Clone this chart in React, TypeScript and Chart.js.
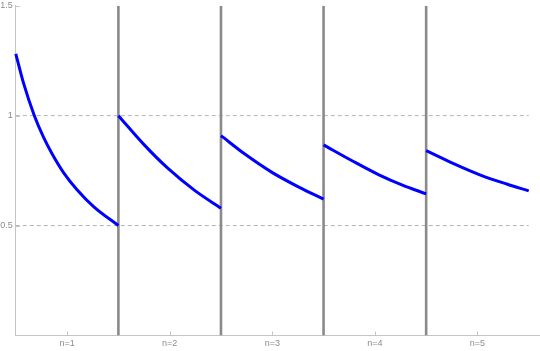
import React, { useEffect, useRef } from "react";
import { Chart, registerables } from "chart.js";

Chart.register(...registerables);

// Segment labels shown under the x axis (centred in each unit interval)
const segmentLabels = ["n=1", "n=2", "n=3", "n=4", "n=5"];
const segmentLabelPositions = [0.5, 1.5, 2.5, 3.5, 4.5];

// Curve samples (x, y)
const seg1X = [0, 0.074, 0.18, 0.271, 0.352, 0.467, 0.597, 0.761, 1];
const seg1Y = [1.281, 1.15, 1.001, 0.901, 0.828, 0.74, 0.663, 0.585, 0.5];
const seg2X = [1, 1.252, 1.481, 1.743, 2];
const seg2Y = [1.0, 0.867, 0.761, 0.66, 0.579];
const seg3X = [2, 2.236, 2.497, 2.759, 3];
const seg3Y = [0.909, 0.824, 0.742, 0.675, 0.62];
const seg4X = [3, 3.278, 3.54, 3.769, 4];
const seg4Y = [0.867, 0.795, 0.731, 0.684, 0.644];
const seg5X = [4, 4.262, 4.523, 4.785, 5];
const seg5Y = [0.841, 0.783, 0.731, 0.689, 0.658];

// Vertical separators and dashed reference levels
const boundaries = [1, 2, 3, 4];
const refLevels = [0.5, 1];
const refStart = 0;
const refEnd = 5;

// Axis ranges and ticks
const xMin = 0;
const xMax = 5.1;
const yMin = 0;
const yMax = 1.5;
const yTicks = [0.5, 1, 1.5];

const zip = (xs: number[], ys: number[]) => xs.map((x, i) => ({ x, y: ys[i] }));

const inwardTicks = {
  id: "inwardTicks",
  beforeDatasetsDraw(chart: any) {
    const { ctx, chartArea, scales } = chart;
    ctx.save();
    ctx.strokeStyle = "#c4c4c4";
    ctx.lineWidth = 1;
    ctx.beginPath();
    segmentLabelPositions.forEach((v) => {
      const px = Math.round(scales.x.getPixelForValue(v)) + 0.5;
      ctx.moveTo(px, chartArea.bottom);
      ctx.lineTo(px, chartArea.bottom - 4);
    });
    yTicks.forEach((v) => {
      const py = Math.round(scales.y.getPixelForValue(v)) + 0.5;
      ctx.moveTo(chartArea.left, py);
      ctx.lineTo(chartArea.left + 4, py);
    });
    ctx.stroke();
    ctx.restore();
  },
};

export default function App() {
  const ref = useRef<HTMLCanvasElement | null>(null);

  useEffect(() => {
    if (!ref.current) return;
    const blue = "#0000ff";
    const curveSets = [
      zip(seg1X, seg1Y),
      zip(seg2X, seg2Y),
      zip(seg3X, seg3Y),
      zip(seg4X, seg4Y),
      zip(seg5X, seg5Y),
    ].map((data) => ({
      type: "line" as const,
      data,
      borderColor: blue,
      borderWidth: 3,
      pointRadius: 0,
      cubicInterpolationMode: "monotone" as const,
      fill: false,
      order: 0,
      clip: false,
    }));

    const sepSets = boundaries.map((b) => ({
      type: "line" as const,
      data: [
        { x: b, y: yMin },
        { x: b, y: yMax },
      ],
      borderColor: "#8a8a8a",
      borderWidth: 2.6,
      pointRadius: 0,
      fill: false,
      order: 1,
    }));

    const refSets = refLevels.map((lv) => ({
      type: "line" as const,
      data: [
        { x: refStart, y: lv },
        { x: refEnd, y: lv },
      ],
      borderColor: "#b3b3b3",
      borderWidth: 1,
      borderDash: [4, 3],
      pointRadius: 0,
      fill: false,
      order: 2,
    }));

    const chart = new Chart(ref.current, {
      type: "line",
      data: { datasets: [...curveSets, ...sepSets, ...refSets] as any },
      options: {
        animation: false,
        responsive: false,
        maintainAspectRatio: false,
        parsing: false as any,
        layout: { padding: { top: 5.7, right: 1, left: 0, bottom: 0 } },
        plugins: {
          legend: { display: false },
          tooltip: { enabled: false },
        },
        scales: {
          x: {
            type: "linear",
            min: xMin,
            max: xMax,
            afterBuildTicks: (s: any) => {
              s.ticks = segmentLabelPositions.map((v) => ({ value: v }));
            },
            afterFit: (s: any) => {
              s.height = 15.5;
              s.paddingLeft = 0;
              s.paddingRight = 0;
            },
            ticks: {
              autoSkip: false,
              maxRotation: 0,
              padding: 3,
              color: "#8c8c8c",
              font: { family: "'Liberation Sans', Arial, sans-serif", size: 9 },
              callback: (v: any) => {
                const i = segmentLabelPositions.indexOf(Number(v));
                return i >= 0 ? segmentLabels[i] : "";
              },
            },
            grid: { display: false, drawTicks: false },
            border: { display: true, color: "#c4c4c4", width: 1 },
          },
          y: {
            type: "linear",
            min: yMin,
            max: yMax,
            afterBuildTicks: (s: any) => {
              s.ticks = yTicks.map((v) => ({ value: v }));
            },
            afterFit: (s: any) => {
              s.width = 15.8;
              s.paddingTop = 0;
              s.paddingBottom = 0;
            },
            ticks: {
              padding: 3,
              color: "#8c8c8c",
              font: { family: "'Liberation Sans', Arial, sans-serif", size: 9 },
              callback: (v: any) => String(v),
            },
            grid: { display: false, drawTicks: false },
            border: { display: true, color: "#c4c4c4", width: 1 },
          },
        },
      },
      plugins: [inwardTicks],
    });
    return () => chart.destroy();
  }, []);

  return (
    <div style={{ position: "fixed", left: 0, top: 0, width: 540, height: 351, background: "#fff" }}>
      <canvas ref={ref} width={540} height={351} style={{ display: "block" }} />
    </div>
  );
}
